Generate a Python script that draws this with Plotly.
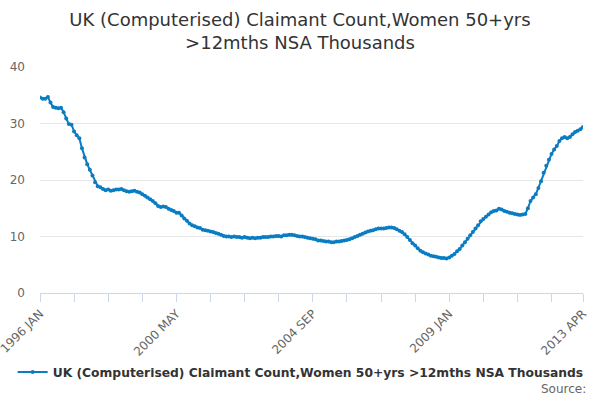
import plotly.graph_objects as go

months = ['JAN', 'FEB', 'MAR', 'APR', 'MAY', 'JUN',
          'JUL', 'AUG', 'SEP', 'OCT', 'NOV', 'DEC']

# monthly periods 1996 JAN .. 2013 APR
periods = ['%d %s' % (y, m) for y in range(1996, 2014) for m in months][:208]

# claimant count, thousands
values = [
    34.6, 34.4, 34.4, 34.7, 33.7, 32.9, 32.8, 32.7, 32.8, 32.0, 30.9, 29.9,   # 1996
    29.8, 28.6, 27.9, 27.4, 25.6, 24.0, 22.8, 21.8, 20.8, 19.6, 18.9, 18.7,   # 1997
    18.4, 18.2, 18.3, 18.1, 18.2, 18.3, 18.3, 18.4, 18.2, 18.0, 17.9, 18.0,   # 1998
    18.1, 17.9, 17.8, 17.5, 17.2, 16.9, 16.6, 16.3, 15.9, 15.4, 15.2, 15.3,   # 1999
    15.2, 14.9, 14.7, 14.5, 14.2, 14.2, 13.7, 13.2, 12.8, 12.3, 12.0, 11.8,   # 2000
    11.6, 11.5, 11.2, 11.1, 11.0, 10.9, 10.8, 10.6, 10.5, 10.3, 10.1, 10.0,   # 2001
    10.0, 9.9, 10.0, 9.9, 9.9, 9.8, 9.9, 9.8, 9.7, 9.8, 9.7, 9.8,             # 2002
    9.8, 9.9, 9.9, 9.9, 10.0, 10.0, 10.1, 10.1, 10.0, 10.2, 10.2, 10.3,       # 2003
    10.3, 10.2, 10.1, 10.0, 10.0, 9.9, 9.8, 9.7, 9.6, 9.5, 9.3, 9.3,         # 2004
    9.2, 9.1, 9.1, 9.0, 9.0, 9.1, 9.1, 9.2, 9.3, 9.4, 9.5, 9.7,               # 2005
    9.9, 10.1, 10.3, 10.5, 10.7, 10.9, 11.0, 11.1, 11.3, 11.4, 11.4, 11.4,    # 2006
    11.5, 11.6, 11.6, 11.5, 11.3, 11.0, 10.8, 10.4, 9.9, 9.4, 8.8, 8.4,       # 2007
    7.9, 7.5, 7.2, 7.0, 6.8, 6.6, 6.5, 6.4, 6.3, 6.2, 6.2, 6.1,               # 2008
    6.3, 6.6, 6.9, 7.4, 7.8, 8.4, 9.0, 9.6, 10.2, 10.8, 11.4, 12.0,           # 2009
    12.7, 13.1, 13.5, 13.9, 14.3, 14.5, 14.6, 14.9, 14.8, 14.5, 14.4, 14.2,   # 2010
    14.1, 14.0, 13.9, 13.8, 13.9, 14.0, 15.0, 16.3, 16.9, 17.5, 18.6, 19.8,   # 2011
    21.3, 22.5, 23.6, 24.6, 25.4, 26.0, 26.9, 27.4, 27.6, 27.4, 27.6, 28.1,   # 2012
    28.5, 28.7, 29.0, 29.4,                                                   # 2013
]

series_name = 'UK (Computerised) Claimant Count,Women 50+yrs >12mths NSA Thousands'
labelled = ['1996 JAN', '2000 MAY', '2004 SEP', '2009 JAN', '2013 APR']

# a tick every 13 months, plus the last period
tick_vals = periods[::13] + [periods[-1]]
tick_text = [p if p in labelled else '' for p in tick_vals]

grey = '#666666'
fig = go.Figure()
fig.add_trace(go.Scatter(x=periods, y=values, name=series_name,
                         mode='lines+markers',
                         line=dict(color='#0a7dc2', width=2),
                         marker=dict(color='#0a7dc2', size=4)))

fig.update_layout(
    width=600, height=400,
    margin=dict(l=40, r=17, t=67, b=107),
    paper_bgcolor='white', plot_bgcolor='white',
    font=dict(family='DejaVu Sans', color='#333333'),
    title=dict(text='UK (Computerised) Claimant Count,Women 50+yrs<br>>12mths NSA Thousands',
               x=0.5, xanchor='center', y=0.935, yanchor='top',
               font=dict(size=18, color='#333333')),
    showlegend=True,
    legend=dict(orientation='h', x=0.48, xanchor='center', y=-0.35, yanchor='middle',
                itemwidth=30,
                font=dict(size=12.3, color='#333333', weight='bold')),
    annotations=[dict(text='Source:', xref='paper', yref='paper', x=1.009, y=-0.425,
                      xanchor='right', yanchor='middle', showarrow=False,
                      font=dict(size=12, color='#666666'))],
)
fig.update_xaxes(type='category', range=[0, len(periods) - 1], automargin=False,
                 tickmode='array', tickvals=tick_vals, ticktext=tick_text,
                 tickangle=-45, tickfont=dict(size=12, color=grey),
                 ticks='outside', ticklen=8, tickcolor='#ccd6eb',
                 showline=True, linecolor='#ccd6eb', showgrid=False)
fig.update_yaxes(range=[0, 40], dtick=10, showgrid=True, gridcolor='#e6e6e6',
                 zeroline=False, automargin=False, tickfont=dict(size=12, color=grey),
                 ticks='', ticklabelstandoff=14)

# drop the page's default body margin so the 600x400 figure fills the window
fig.write_html('out.html', config={'displayModeBar': False},
               post_script="document.body.style.margin='0';")
